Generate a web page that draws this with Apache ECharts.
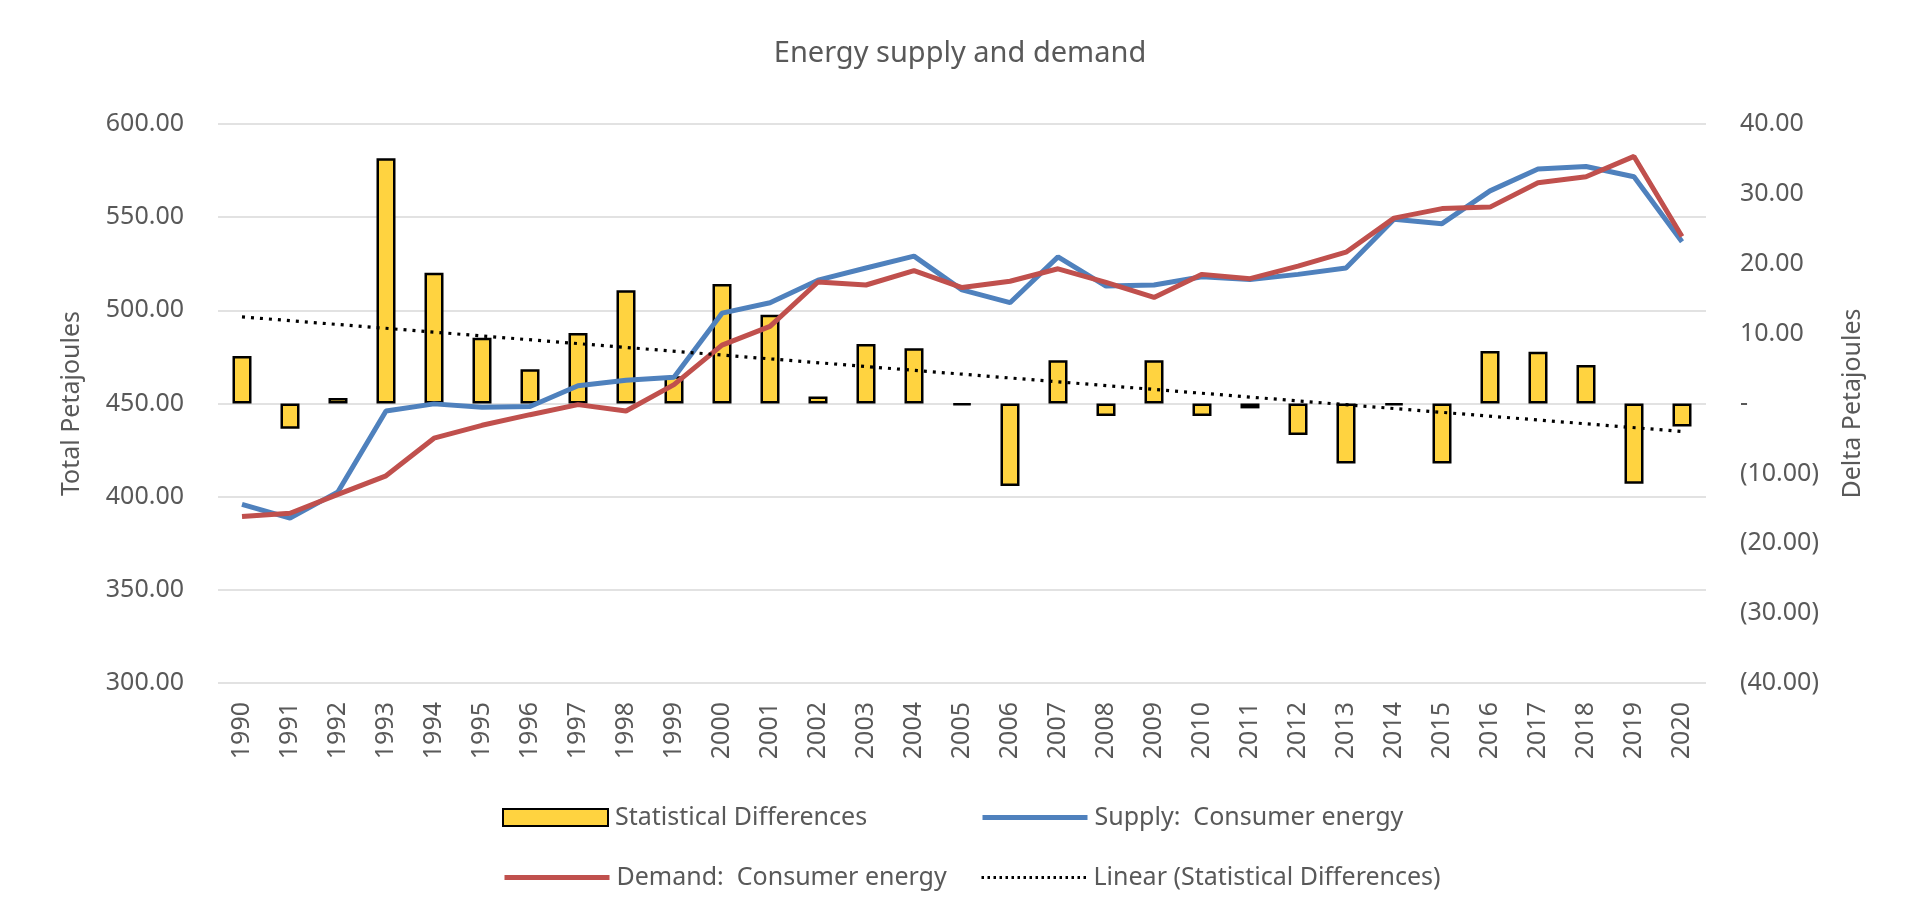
<!DOCTYPE html>
<html>
<head>
<meta charset="utf-8">
<title>Energy supply and demand</title>
<script src="https://cdn.jsdelivr.net/npm/echarts@6.0.0/dist/echarts.min.js"></script>
<style>
    html, body { margin: 0; padding: 0; background: #fff; }
    #main { width: 1920px; height: 924px; }
</style>
</head>
<body>
<div id="main"></div>
<script>
    var years = ['1990', '1991', '1992', '1993', '1994', '1995', '1996', '1997', '1998', '1999',
        '2000', '2001', '2002', '2003', '2004', '2005', '2006', '2007', '2008', '2009',
        '2010', '2011', '2012', '2013', '2014', '2015', '2016', '2017', '2018', '2019', '2020'];
    // right axis (delta PJ)
    var statDiff = [6.8, -3.6, 0.8, 35.1, 18.7, 9.4, 4.9, 10.1, 16.2, 3.9,
        17.1, 12.7, 1.0, 8.5, 7.9, -0.2, -11.8, 6.2, -1.8, 6.2,
        -1.8, -0.7, -4.5, -8.6, -0.2, -8.6, 7.5, 7.4, 5.5, -11.5, -3.3];
    // left axis (total PJ)
    var supply = [395.9, 388.5, 402.6, 446.0, 449.8, 448.0, 448.4, 459.5, 462.5, 464.1,
        498.5, 504.1, 516.2, 522.7, 529.1, 511.0, 504.1, 528.7, 513.0, 513.6,
        518.0, 516.6, 519.3, 522.7, 548.9, 546.5, 564.1, 575.8, 577.2, 571.7, 536.8];
    var demand = [389.3, 391.1, 401.2, 411.2, 431.4, 438.3, 444.0, 449.4, 446.0, 460.1,
        481.3, 491.4, 515.2, 513.6, 521.3, 512.2, 515.6, 522.3, 515.0, 506.9,
        519.3, 517.0, 523.7, 531.2, 549.5, 554.6, 555.4, 568.5, 571.7, 582.6, 539.6];
    // trendline at its two ends
    var trendEnds = [['1990', 12.4], ['2020', -4.0]];

    var leftTicks = { min: 300, max: 600, interval: 50 };
    var rightTicks = { min: -40, max: 40, interval: 10 };

    var txt = '#595959';
    var font = 'Noto Sans';

    function legendAt(name, left, top, lineStyle) {
        var lg = {
            data: [name],
            left: left,
            top: top,
            itemWidth: 105,
            itemHeight: 17,
            selectedMode: false,
            textStyle: { color: txt, fontFamily: font, fontSize: 25, padding: [0, 0, 0, 2] }
        };
        if (lineStyle) {
            // line series: plain line in the key, no marker
            lg.lineStyle = lineStyle;
            lg.itemStyle = { opacity: 0 };
        } else {
            lg.icon = 'rect';
        }
        return lg;
    }

    var myChart = echarts.init(document.getElementById('main'));
    var option = {
        backgroundColor: '#fff',
        animation: false,
        title: {
            text: 'Energy supply and demand',
            left: 'center',
            top: 34,
            textStyle: { color: txt, fontFamily: font, fontSize: 29, fontWeight: 'normal' }
        },
        legend: [
            legendAt('Statistical Differences', 497, 800),
            legendAt('Supply:  Consumer energy', 975, 800, { width: 5, opacity: 1 }),
            legendAt('Demand:  Consumer energy', 497, 860, { width: 5, opacity: 1 }),
            legendAt('Linear (Statistical Differences)', 975, 860, { width: 3, type: [2.5, 3.5], opacity: 1 })
        ],
        grid: { left: 218, right: 214, top: 124, bottom: 241 },
        xAxis: {
            type: 'category',
            data: years,
            boundaryGap: true,
            axisLine: { show: false },
            axisTick: { show: false },
            axisLabel: { rotate: 90, margin: 19, color: txt, fontFamily: font, fontSize: 25 }
        },
        yAxis: [
            {
                type: 'value',
                min: leftTicks.min,
                max: leftTicks.max,
                interval: leftTicks.interval,
                name: 'Total Petajoules',
                nameLocation: 'middle',
                nameGap: 134,
                nameTextStyle: { color: txt, fontFamily: font, fontSize: 25 },
                axisLine: { show: false },
                axisTick: { show: false },
                splitLine: { lineStyle: { color: '#d9d9d9', width: 1.5 } },
                axisLabel: {
                    margin: 34,
                    color: txt, fontFamily: font, fontSize: 25,
                    formatter: function (v) { return v.toFixed(2); }
                }
            },
            {
                type: 'value',
                min: rightTicks.min,
                max: rightTicks.max,
                interval: rightTicks.interval,
                name: 'Delta Petajoules',
                nameLocation: 'middle',
                nameGap: 134,
                nameTextStyle: { color: txt, fontFamily: font, fontSize: 25 },
                axisLine: { show: false },
                axisTick: { show: false },
                splitLine: { show: false },
                axisLabel: {
                    margin: 34,
                    color: txt, fontFamily: font, fontSize: 25,
                    formatter: function (v) {
                        if (v === 0) return '-';
                        return v < 0 ? '(' + (-v).toFixed(2) + ')' : v.toFixed(2);
                    }
                }
            }
        ],
        series: [
            {
                name: 'Statistical Differences',
                type: 'bar',
                yAxisIndex: 1,
                barWidth: 19,
                data: statDiff,
                itemStyle: { color: '#ffd340', borderColor: '#000', borderWidth: 2.5 }
            },
            {
                name: 'Supply:  Consumer energy',
                type: 'line',
                yAxisIndex: 0,
                data: supply,
                symbol: 'none',
                lineStyle: { color: '#4f81bd', width: 5 },
                itemStyle: { color: '#4f81bd' }
            },
            {
                name: 'Demand:  Consumer energy',
                type: 'line',
                yAxisIndex: 0,
                data: demand,
                symbol: 'none',
                lineStyle: { color: '#c0504d', width: 5 },
                itemStyle: { color: '#c0504d' }
            },
            {
                name: 'Linear (Statistical Differences)',
                type: 'line',
                yAxisIndex: 1,
                data: trendEnds,
                symbol: 'none',
                lineStyle: { color: '#000', width: 3.2, type: [3, 6] },
                itemStyle: { color: '#000' }
            }
        ]
    };
    myChart.setOption(option);
</script>
</body>
</html>
